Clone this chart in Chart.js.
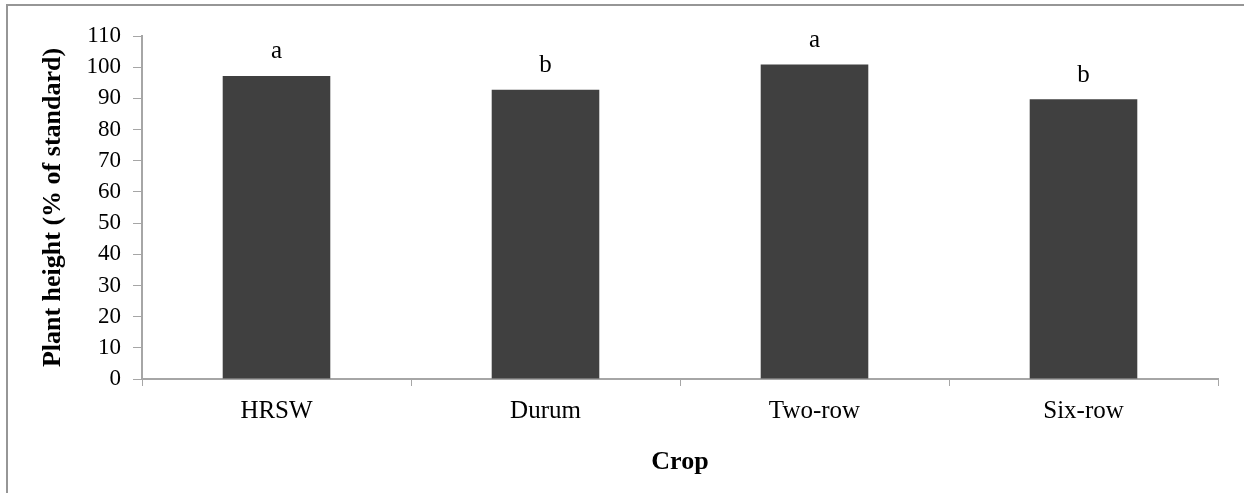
<!DOCTYPE html>
<html>
<head>
<meta charset="utf-8">
<script src="https://cdn.jsdelivr.net/npm/chart.js@4.4.1/dist/chart.umd.min.js"></script>
<style>
  html, body { margin: 0; padding: 0; background: #ffffff; }
  #wrap { position: relative; width: 1244px; height: 493px; overflow: hidden; }
  #frame { position: absolute; left: 6px; top: 4px; width: 1300px; height: 600px;
           border-left: 2px solid #969696; border-top: 2px solid #969696; }
  canvas { position: absolute; left: 0; top: 0; }
</style>
</head>
<body>
<div id="wrap">
  <div id="frame"></div>
  <canvas id="c" width="1244" height="493"></canvas>
</div>
<script>
const categories = ["HRSW", "Durum", "Two-row", "Six-row"];
const heights = [97.2, 92.8, 100.9, 89.7];
const letters = ["a", "b", "a", "b"];
const yTitle = "Plant height (% of standard)";
const xTitle = "Crop";

const serif = "'Liberation Serif', 'Times New Roman', serif";
const axisGray = "#a6a6a6";

const letterPlugin = {
  id: "letters",
  afterDatasetsDraw(chart) {
    const ctx = chart.ctx;
    const meta = chart.getDatasetMeta(0);
    ctx.save();
    ctx.font = "25px " + serif;
    ctx.fillStyle = "#000000";
    ctx.textAlign = "center";
    ctx.textBaseline = "alphabetic";
    meta.data.forEach((bar, i) => {
      ctx.fillText(letters[i], bar.x, bar.y - 17.5);
    });
    ctx.restore();
  }
};

new Chart(document.getElementById("c"), {
  type: "bar",
  data: {
    labels: categories,
    datasets: [{
      data: heights,
      backgroundColor: "#404040",
      borderWidth: 0,
      categoryPercentage: 1.0,
      barPercentage: 0.4
    }]
  },
  options: {
    responsive: false,
    animation: false,
    devicePixelRatio: 1,
    layout: { padding: { top: 36, right: 26, left: 0, bottom: 0 } },
    plugins: {
      legend: { display: false },
      tooltip: { enabled: false }
    },
    scales: {
      x: {
        afterFit(s) { s.height = 114; },
        grid: {
          display: true,
          offset: true,
          drawOnChartArea: false,
          drawTicks: true,
          tickLength: 7,
          color: axisGray,
          lineWidth: 1
        },
        border: { display: true, color: axisGray, width: 2 },
        ticks: {
          color: "#000000",
          font: { family: serif, size: 25 },
          padding: 10
        },
        title: {
          display: true,
          text: xTitle,
          color: "#000000",
          font: { family: serif, size: 26, weight: "bold" },
          padding: { top: 0, bottom: 15 }
        }
      },
      y: {
        min: 0,
        max: 110,
        afterFit(s) { s.width = 142; },
        grid: {
          display: true,
          drawOnChartArea: false,
          drawTicks: true,
          tickLength: 9,
          color: axisGray,
          lineWidth: 1
        },
        border: { display: true, color: axisGray, width: 2 },
        ticks: {
          stepSize: 10,
          color: "#000000",
          font: { family: serif, size: 23 },
          padding: 12
        },
        title: {
          display: true,
          text: yTitle,
          color: "#000000",
          font: { family: serif, size: 26, weight: "bold" },
          padding: { top: 38, bottom: 0 }
        }
      }
    }
  },
  plugins: [letterPlugin]
});
</script>
</body>
</html>
